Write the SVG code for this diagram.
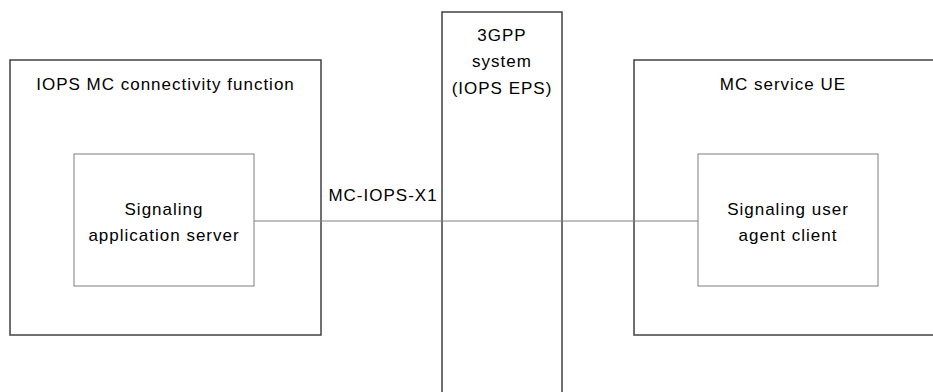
<svg xmlns="http://www.w3.org/2000/svg" width="933" height="392" viewBox="0 0 933 392">
<style>
.outer{fill:none;stroke:#404040;stroke-width:1.5}
.inner{fill:none;stroke:#7f7f7f;stroke-width:1}
.conn{stroke:#7f7f7f;stroke-width:1;fill:none}
text{font-family:"Liberation Sans",Arial,sans-serif;font-size:17px;fill:#000;letter-spacing:1px;text-anchor:middle}
</style>
<rect width="933" height="392" fill="#fff"/>
<g id="iops-mc-connectivity-function">
<rect class="outer" x="10" y="60" width="311" height="275"/>
<text x="165.5" y="90">IOPS MC connectivity function</text>
</g>
<g id="signaling-application-server">
<rect class="inner" x="74" y="154" width="180" height="132"/>
<text x="164" y="215">Signaling</text>
<text x="164" y="241">application server</text>
</g>
<g id="3gpp-system">
<rect class="outer" x="442" y="12" width="120" height="390"/>
<text x="502" y="41">3GPP</text>
<text x="502" y="67">system</text>
<text x="502" y="94">(IOPS EPS)</text>
</g>
<g id="mc-service-ue">
<rect class="outer" x="634" y="60" width="310" height="275"/>
<text x="783" y="90">MC service UE</text>
</g>
<g id="signaling-user-agent-client">
<rect class="inner" x="698" y="154" width="180" height="132"/>
<text x="788" y="215">Signaling user</text>
<text x="788" y="241">agent client</text>
</g>
<g id="connectors">
<line class="conn" x1="254" y1="221" x2="698" y2="221"/>
<text x="383" y="201">MC-IOPS-X1</text>
</g>
</svg>
